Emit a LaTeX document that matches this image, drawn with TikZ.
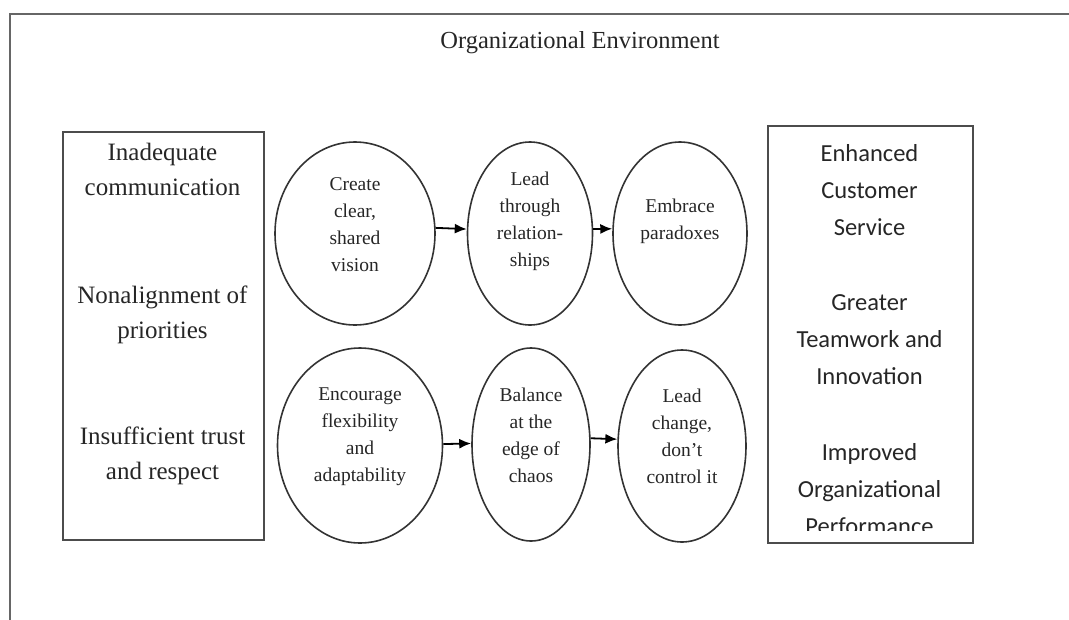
\documentclass[tikz,border=0pt]{standalone}
\usepackage{fontspec}
\setmainfont{Liberation Serif}
\newfontfamily\calibri{Carlito}
\usetikzlibrary{shapes.geometric,arrows.meta}

\begin{document}
\begin{tikzpicture}[
    x=1pt,
    y=-1pt,
    frame/.style={
      draw=black!60,
      line width=2.2pt,
      inner sep=0pt
      },
    box/.style={
      draw=black!70,
      line width=1.8pt,
      inner sep=0pt,
      anchor=north west
      },
    oval/.style={
      draw=black!80,
      line width=1.6pt,
      ellipse,
      inner sep=0pt
      },
    causetext/.style={
      align=center,
      text=black!85,
      font=\fontsize{25}{35}\selectfont
      },
    resulttext/.style={
      align=center,
      text=black!85,
      font=\calibri\fontsize{24.5}{37}\selectfont
      },
    ovaltext/.style={
      align=center,
      text=black!85,
      font=\fontsize{19.5}{27}\selectfont
      },
    >={Latex[length=12pt,width=10pt]}
    ]
    \useasboundingbox (0,0) rectangle (1069,619);
    \clip (0,0) rectangle (1069,619);

    % surrounding environment, runs off the page on the right and bottom
    \node[frame, minimum width=1080, minimum height=630, anchor=north west] (env) at (9,13) {};
    \node[text=black!85, font=\fontsize{24.5}{28}\selectfont] (envtitle) at (580,43) {Organizational Environment};

    % problems
    \node[box, minimum width=201, minimum height=408] (causes) at (62,131) {};
    \node[causetext] (inad) at (162.5,169.5) {Inadequate\\communication};
    \node[causetext] (nonal) at (162.5,315) {Nonalignment of\\priorities};
    \node[causetext] (insuf) at (162.5,455.5) {Insufficient trust\\and respect};

    % leadership practices
    \node[oval, minimum width=160, minimum height=183] (e1) at (355,233.5) {};
    \node[oval, minimum width=125, minimum height=183] (e2) at (530,233.5) {};
    \node[oval, minimum width=134, minimum height=183] (e3) at (680,233.5) {};
    \node[oval, minimum width=165, minimum height=195] (e4) at (360,445.5) {};
    \node[oval, minimum width=118, minimum height=193] (e5) at (531,444.5) {};
    \node[oval, minimum width=128, minimum height=192] (e6) at (682,446) {};

    \node[ovaltext] (t1) at ([yshift=9pt]e1.center) {Create\\clear,\\shared\\vision};
    \node[ovaltext] (t2) at ([yshift=12pt]e2.center) {Lead\\through\\relation-\\ships};
    \node[ovaltext] (t3) at ([yshift=12pt]e3.center) {Embrace\\paradoxes};
    \node[ovaltext] (t4) at ([yshift=9pt]e4.center) {Encourage\\flexibility\\and\\adaptability};
    \node[ovaltext] (t5) at ([yshift=9pt]e5.center) {Balance\\at the\\edge of\\chaos};
    \node[ovaltext] (t6) at ([yshift=10pt]e6.center) {Lead\\change,\\don’t\\control it};

    \foreach \a/\b/\t [evaluate=\t as \u using int(180-\t)] in {e1/e2/4, e2/e3/4, e4/e5/1, e5/e6/6}
      \draw[->, line width=1.8pt] (\a.\t) -- (\b.\u);

    % outcomes
    \node[box, minimum width=205, minimum height=417] (results) at (767,125) {};
    \begin{scope}
      \clip (767,125) rectangle (972,530);
      \node[resulttext] (cust) at (869.5,190) {Enhanced\\Customer\\Service};
      \node[resulttext] (team) at (869.5,340) {Greater\\Teamwork and\\Innovation};
      \node[resulttext] (perf) at (869.5,489) {Improved\\Organizational\\Performance};
    \end{scope}
\end{tikzpicture}
\end{document}
